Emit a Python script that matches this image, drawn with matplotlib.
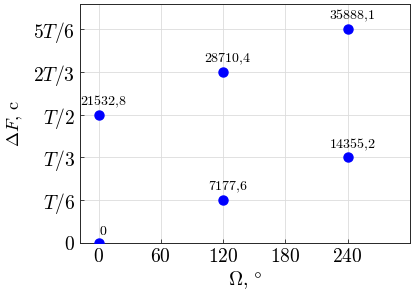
import numpy as np
import matplotlib
matplotlib.use("Agg")
import matplotlib.pyplot as plt

plt.rcParams['mathtext.fontset'] = 'cm'
plt.rcParams['font.family'] = 'serif'
plt.rcParams['font.serif'] = ['cmr10', 'DejaVu Serif']
plt.rcParams['axes.formatter.use_mathtext'] = True

# data: rotation angle (deg) and time shift (s)
omega = [0, 120, 240, 0, 120, 240]
dF = [0.0, 7177.6, 14355.2, 21532.8, 28710.4, 35888.1]
labels = ['0', '7177,6', '14355,2', '21532,8', '28710,4', '35888,1']

T = 6 * 7177.6
x_ticks = [0, 60, 120, 180, 240]
y_tick_labels = ['$0$', '$T/6$', '$T/3$', '$T/2$', '$2T/3$', '$5T/6$']

fig = plt.figure(figsize=(4.14, 2.96), dpi=100)
ax = fig.add_axes([0.193, 0.179, 0.797, 0.807])

ax.plot(omega, dF, 'o', color='#0000ff', markersize=6.5, zorder=3)

for xo, yo, s in zip(omega, dF, labels):
    ax.annotate('$' + s.replace(',', '{,}') + '$', (xo, yo), xytext=(3.5, 3.5),
                textcoords='offset points', ha='center', va='bottom', fontsize=10)

ax.set_xlim(-18, 300)
ax.set_ylim(0, 5.58 * T / 6)
ax.set_xticks(x_ticks)
ax.set_xticklabels(['$%d$' % v for v in x_ticks])
ax.set_yticks([k * T / 6 for k in range(6)])
ax.set_yticklabels(y_tick_labels)
ax.tick_params(direction='in', labelsize=14, length=3, width=0.6, color='#262626')
ax.grid(True, color='#dcdcdc', linewidth=0.6)
ax.set_axisbelow(True)
for sp in ax.spines.values():
    sp.set_linewidth(0.7)
    sp.set_color('#262626')

ax.set_xlabel(r'$\Omega,\,\degree$', fontsize=14, labelpad=2)
ax.set_ylabel(r'$\Delta F,\,\mathrm{c}$', fontsize=13, labelpad=6)

fig.savefig('out.png', dpi=100)
